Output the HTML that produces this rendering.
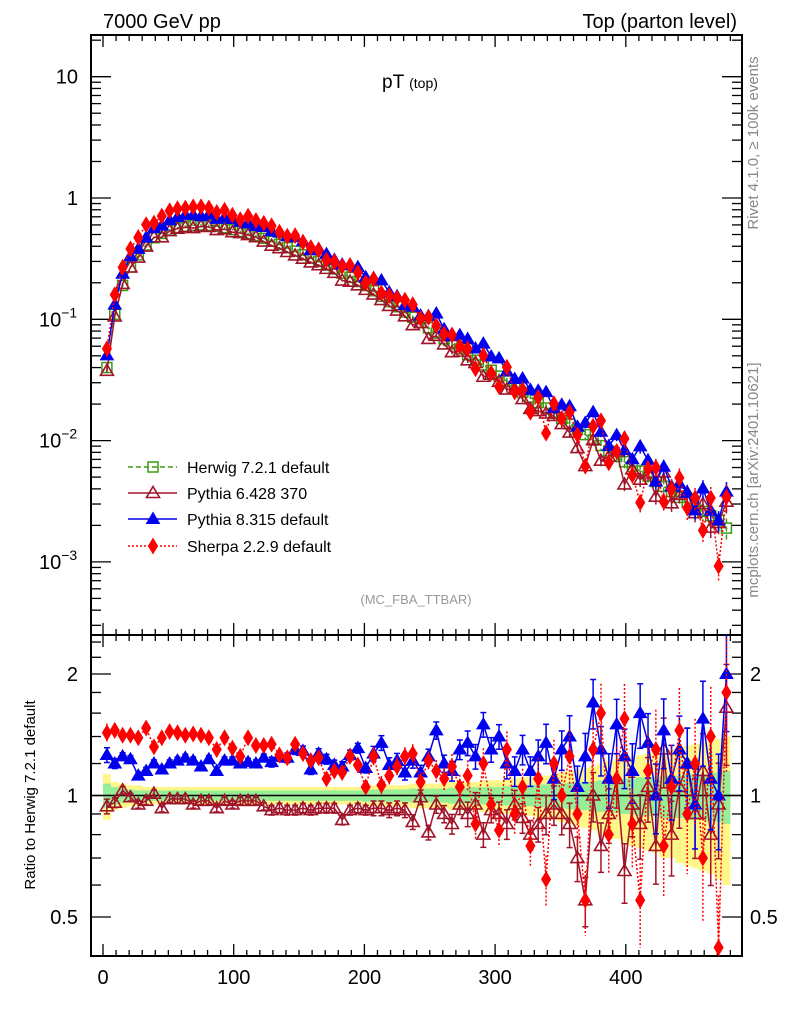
<!DOCTYPE html>
<html><head><meta charset="utf-8">
<style>
html,body{margin:0;padding:0;background:#fff;}
svg{display:block;font-family:"Liberation Sans",Arial,sans-serif;}
</style></head>
<body>
<svg id="chart" width="786" height="1024" viewBox="0 0 786 1024" xmlns="http://www.w3.org/2000/svg">
<defs>
<clipPath id="clipMain"><rect x="91" y="35" width="651" height="600"/></clipPath>
<clipPath id="clipRatio"><rect x="91" y="635" width="651" height="321"/></clipPath>
</defs>
<text x="103" y="28" font-size="20">7000 GeV pp</text>
<text x="737" y="28" font-size="20" text-anchor="end">Top (parton level)</text>
<text x="382" y="88" font-size="19">pT <tspan font-size="14">(top)</tspan></text>
<text x="416" y="604" font-size="13" fill="#999" text-anchor="middle">(MC_FBA_TTBAR)</text>
<text transform="translate(758,143) rotate(-90)" font-size="15" fill="#888" text-anchor="middle">Rivet 4.1.0, ≥ 100k events</text>
<text transform="translate(758,480) rotate(-90)" font-size="15" fill="#888" text-anchor="middle">mcplots.cern.ch [arXiv:2401.10621]</text>
<text transform="translate(35,795) rotate(-90)" font-size="15" text-anchor="middle">Ratio to Herwig 7.2.1 default</text>
<g id="bands" clip-path="url(#clipRatio)"></g>
<g id="axes"></g>
<g id="mainSeries" clip-path="url(#clipMain)"></g>
<g id="ratioSeries" clip-path="url(#clipRatio)"></g>
<g id="legend"></g>
</svg>
<script>
const pT = [3,9,15,21,27,33,39,45,51,57,63,69,75,81,87,93,99,105,111,117,123,129,135,141,147,153,159,165,171,177,183,189,195,201,207,213,219,225,231,237,243,249,255,261,267,273,279,285,291,297,303,309,315,321,327,333,339,345,351,357,363,369,375,381,387,393,399,405,411,417,423,429,435,441,447,453,459,465,471,477];
const herwig = [0.040,0.11,0.19,0.27,0.34,0.41,0.47,0.51,0.545,0.57,0.585,0.595,0.60,0.595,0.585,0.57,0.55,0.53,0.51,0.49,0.465,0.44,0.415,0.39,0.365,0.34,0.32,0.30,0.28,0.26,0.24,0.222,0.205,0.19,0.172,0.155,0.140,0.127,0.115,0.104,0.094,0.085,0.077,0.069,0.063,0.057,0.051,0.046,0.042,0.038,0.034,0.031,0.028,0.025,0.0228,0.0206,0.0186,0.0168,0.0152,0.0137,0.0124,0.0112,0.0101,0.0091,0.0082,0.0074,0.0067,0.0061,0.0056,0.0051,0.0046,0.0042,0.0038,0.0034,0.0031,0.0028,0.0026,0.0024,0.0022,0.0019];
const ratioPythia6 = [0.94,0.96,1.03,0.99,0.95,0.97,1.01,0.93,0.98,0.98,0.98,0.95,0.97,0.97,0.93,0.97,0.95,0.97,0.97,0.97,0.94,0.92,0.93,0.92,0.92,0.93,0.92,0.93,0.93,0.93,0.87,0.92,0.93,0.92,0.93,0.93,0.92,0.93,0.92,0.86,0.99,0.81,0.95,0.90,0.85,0.95,0.90,0.95,0.80,0.92,0.90,0.85,0.95,0.88,0.80,0.85,0.90,0.95,0.90,0.85,0.70,0.55,1.00,0.75,0.90,1.10,0.65,0.95,0.85,1.05,0.75,1.30,0.80,1.05,1.20,0.90,1.15,0.80,0.95,1.65];
const ratioPythia8 = [1.26,1.20,1.25,1.23,1.12,1.15,1.20,1.16,1.20,1.22,1.24,1.22,1.18,1.23,1.15,1.22,1.22,1.20,1.21,1.20,1.24,1.21,1.25,1.24,1.30,1.29,1.16,1.27,1.23,1.19,1.18,1.26,1.31,1.17,1.27,1.35,1.19,1.22,1.14,1.22,1.14,1.25,1.45,1.20,1.15,1.30,1.35,1.25,1.50,1.30,1.40,1.20,1.15,1.30,1.15,1.25,1.35,1.10,1.30,1.40,1.05,1.25,1.70,1.30,1.10,1.50,1.25,1.15,1.60,1.35,1.00,1.45,1.10,1.30,1.20,0.95,1.55,1.10,1.00,2.00];
const ratioSherpa = [1.43,1.45,1.41,1.41,1.39,1.47,1.32,1.39,1.44,1.43,1.41,1.42,1.41,1.39,1.30,1.39,1.31,1.25,1.39,1.33,1.33,1.34,1.26,1.24,1.34,1.27,1.22,1.24,1.10,1.15,1.14,1.25,1.19,1.05,1.25,1.06,1.12,1.18,1.25,1.27,1.08,1.22,1.15,1.10,1.18,1.05,1.12,0.85,1.20,0.95,0.82,1.30,0.90,1.05,0.75,1.10,0.62,1.20,1.00,1.25,0.90,0.55,1.30,1.60,0.80,1.10,1.55,0.85,0.55,1.15,1.30,0.75,1.05,1.45,0.90,1.20,0.70,1.40,0.42,1.80];
const relErr = [0.03,0.02,0.015,0.015,0.015,0.015,0.015,0.015,0.015,0.015,0.015,0.015,0.015,0.015,0.015,0.015,0.015,0.015,0.015,0.015,0.015,0.02,0.02,0.02,0.02,0.02,0.02,0.02,0.02,0.02,0.02,0.02,0.02,0.02,0.03,0.03,0.03,0.03,0.03,0.03,0.03,0.03,0.035,0.035,0.04,0.04,0.05,0.05,0.05,0.05,0.05,0.06,0.06,0.06,0.06,0.07,0.08,0.08,0.08,0.09,0.09,0.10,0.10,0.10,0.11,0.11,0.12,0.12,0.13,0.13,0.14,0.14,0.15,0.15,0.16,0.16,0.17,0.18,0.19,0.20];
const bandYellow = [0.13,0.08,0.07,0.06,0.06,0.05,0.05,0.05,0.05,0.05,0.05,0.05,0.05,0.05,0.05,0.05,0.05,0.05,0.05,0.05,0.05,0.05,0.05,0.05,0.05,0.05,0.05,0.05,0.05,0.05,0.05,0.05,0.05,0.06,0.06,0.06,0.06,0.06,0.06,0.07,0.07,0.07,0.07,0.07,0.08,0.08,0.08,0.08,0.09,0.09,0.09,0.10,0.10,0.11,0.11,0.12,0.12,0.13,0.14,0.15,0.16,0.17,0.18,0.20,0.22,0.22,0.24,0.25,0.26,0.27,0.28,0.30,0.30,0.32,0.33,0.34,0.35,0.36,0.38,0.40];
const bandGreen = [0.07,0.05,0.04,0.035,0.03,0.03,0.03,0.03,0.03,0.03,0.03,0.03,0.03,0.03,0.03,0.03,0.03,0.03,0.03,0.03,0.03,0.03,0.03,0.03,0.03,0.03,0.03,0.03,0.03,0.03,0.03,0.03,0.03,0.035,0.035,0.035,0.035,0.035,0.035,0.04,0.04,0.04,0.04,0.04,0.045,0.045,0.045,0.05,0.05,0.05,0.05,0.055,0.055,0.06,0.06,0.065,0.065,0.07,0.07,0.075,0.08,0.08,0.085,0.09,0.09,0.095,0.10,0.10,0.11,0.11,0.11,0.12,0.12,0.12,0.13,0.13,0.13,0.14,0.14,0.15];
const mainTickVals = [10,1,0.1,0.01,0.001];
const mainTickLabels = [["10",""],["1",""],["10","−1"],["10","−2"],["10","−3"]];
const xTickVals = [0,100,200,300,400];
const ratioTickVals = [2,1,0.5];
const ratioTickLabels = ["2","1","0.5"];

const NS = "http://www.w3.org/2000/svg";
const X = v => 103 + 1.307 * v;
const Ym = v => 198 - 121.3 * Math.log10(v);
const Yr = r => 795.5 - 121.5 * Math.log2(r);
const BINW = 6;
function mk(tag, attrs, parent) {
  const e = document.createElementNS(NS, tag);
  for (const k in attrs) e.setAttribute(k, attrs[k]);
  parent.appendChild(e);
  return e;
}
const axes = document.getElementById('axes');
const bands = document.getElementById('bands');
const mainG = document.getElementById('mainSeries');
const ratioG = document.getElementById('ratioSeries');
const legend = document.getElementById('legend');

function bandPath(half, color, name) {
  let top = '', bot = '';
  for (let i = 0; i < pT.length; i++) {
    const x0 = X(pT[i] - BINW / 2), x1 = X(pT[i] + BINW / 2);
    top += (i === 0 ? 'M' : 'L') + x0 + ',' + Yr(1 + half[i]) + 'L' + x1 + ',' + Yr(1 + half[i]);
  }
  for (let i = pT.length - 1; i >= 0; i--) {
    const x0 = X(pT[i] - BINW / 2), x1 = X(pT[i] + BINW / 2);
    bot += 'L' + x1 + ',' + Yr(1 - half[i]) + 'L' + x0 + ',' + Yr(1 - half[i]);
  }
  const p = mk('path', {d: top + bot + 'Z', fill: color, stroke: 'none'}, bands);
  
  
}
bandPath(bandYellow, '#fff68a', 'total-uncertainty-band');
bandPath(bandGreen, '#96ee96', 'stat-uncertainty-band');

const f1 = mk('rect', {x: 91, y: 35, width: 651, height: 600, fill: 'none', stroke: '#000', 'stroke-width': 2}, axes);


const f2 = mk('rect', {x: 91, y: 635, width: 651, height: 321, fill: 'none', stroke: '#000', 'stroke-width': 2}, axes);


const unity = mk('line', {x1: 91, x2: 742, y1: Yr(1), y2: Yr(1), stroke: '#000', 'stroke-width': 1.5}, axes);



for (let v = 0; v <= 480; v += 10) {
  const maj = v % 100 === 0;
  const L = maj ? 12 : 6;
  [[35, 1], [635, -1], [635, 1], [956, -1]].forEach(([y, d]) => {
    mk('line', {x1: X(v), x2: X(v), y1: y, y2: y + d * L, stroke: '#000', 'stroke-width': 1.3}, axes);
  });
}
xTickVals.forEach(v => {
  const t = mk('text', {x: X(v), y: 984, 'font-size': 20, 'text-anchor': 'middle'}, axes);
  t.textContent = String(v);
  
  
});
for (let e = -4; e <= 1; e++) {
  for (let m = 1; m <= 9; m++) {
    const v = m * Math.pow(10, e);
    const y = Ym(v);
    if (y < 36 || y > 634) continue;
    const L = m === 1 ? 20 : 10;
    mk('line', {x1: 91, x2: 91 + L, y1: y, y2: y, stroke: '#000', 'stroke-width': 1.3}, axes);
    mk('line', {x1: 742, x2: 742 - L, y1: y, y2: y, stroke: '#000', 'stroke-width': 1.3}, axes);
  }
}
mainTickVals.forEach((v, i) => {
  const t = mk('text', {x: 78, y: Ym(v) + 7, 'font-size': 20, 'text-anchor': 'end'}, axes);
  
  
  const lab = mainTickLabels[i];
  if (lab[1]) {
    t.setAttribute('x', 39);
    t.setAttribute('text-anchor', 'start');
    t.textContent = lab[0];
    const s = mk('tspan', {dy: -9, 'font-size': 14}, t);
    s.textContent = lab[1];
  } else {
    t.textContent = lab[0];
  }
});
const ratioMinor = [0.4,0.5,0.6,0.7,0.8,0.9,1,1.2,1.4,1.6,1.8,2,2.2,2.4];
ratioMinor.forEach(r => {
  const maj = (r === 0.5 || r === 1 || r === 2);
  const L = maj ? 20 : 10;
  const y = Yr(r);
  mk('line', {x1: 91, x2: 91 + L, y1: y, y2: y, stroke: '#000', 'stroke-width': 1.3}, axes);
  mk('line', {x1: 742, x2: 742 - L, y1: y, y2: y, stroke: '#000', 'stroke-width': 1.3}, axes);
});
ratioTickVals.forEach((r, i) => {
  const t = mk('text', {x: 78, y: Yr(r) + 7, 'font-size': 20, 'text-anchor': 'end'}, axes);
  t.textContent = ratioTickLabels[i];
  
  
  const t2 = mk('text', {x: 750, y: Yr(r) + 7, 'font-size': 20}, axes);
  t2.textContent = ratioTickLabels[i];
  
  
});

function marker(kind, x, y, color, parent) {
  let e;
  if (kind === 'square') e = mk('rect', {x: x - 5, y: y - 5, width: 10, height: 10, fill: 'none', stroke: color, 'stroke-width': 1.5}, parent);
  else if (kind === 'otri') e = mk('polygon', {points: `${x},${y-6.5} ${x+6.5},${y+4.5} ${x-6.5},${y+4.5}`, fill: 'none', stroke: color, 'stroke-width': 1.6}, parent);
  else if (kind === 'ftri') e = mk('polygon', {points: `${x},${y-6.5} ${x+6.5},${y+4.5} ${x-6.5},${y+4.5}`, fill: color, stroke: color}, parent);
  else e = mk('polygon', {points: `${x},${y-7.5} ${x+4.5},${y} ${x},${y+7.5} ${x-4.5},${y}`, fill: color, stroke: color}, parent);
  return e;
}
const series = [
  {name: 'herwig', kind: 'square', color: '#3c9a14', dash: '5,3', ratio: null, errScale: 1},
  {name: 'pythia6', kind: 'otri', color: '#a0142a', dash: '', ratio: ratioPythia6, errScale: 1},
  {name: 'pythia8', kind: 'ftri', color: '#0000ee', dash: '', ratio: ratioPythia8, errScale: 1},
  {name: 'sherpa', kind: 'diam', color: '#ff0000', dash: '2,2', ratio: ratioSherpa, errScale: 1.3}
];
series.forEach(s => {
  const vals = pT.map((v, i) => s.ratio ? herwig[i] * s.ratio[i] : herwig[i]);
  const g = mk('g', {}, mainG);
  
  
  const pts = pT.map((v, i) => X(v) + ',' + Ym(vals[i])).join(' ');
  mk('polyline', {points: pts, fill: 'none', stroke: s.color, 'stroke-width': 1.5, 'stroke-dasharray': s.dash}, g);
  pT.forEach((v, i) => {
    const e = vals[i] * relErr[i] * s.errScale;
    const x = X(v);
    mk('line', {x1: x, x2: x, y1: Ym(vals[i] + e), y2: Ym(Math.max(vals[i] - e, 1e-6)), stroke: s.color, 'stroke-width': 1.5, 'stroke-dasharray': s.dash}, g);
    const m = marker(s.kind, x, Ym(vals[i]), s.color, g);
    
    
  });
  if (!s.ratio) return;
  const gr = mk('g', {}, ratioG);
  
  
  const rp = pT.map((v, i) => X(v) + ',' + Yr(s.ratio[i])).join(' ');
  mk('polyline', {points: rp, fill: 'none', stroke: s.color, 'stroke-width': 1.5, 'stroke-dasharray': s.dash}, gr);
  pT.forEach((v, i) => {
    const r = s.ratio[i];
    const e = r * relErr[i] * 1.4 * s.errScale;
    const x = X(v);
    mk('line', {x1: x, x2: x, y1: Yr(r + e), y2: Yr(Math.max(r - e, 0.05)), stroke: s.color, 'stroke-width': 1.5, 'stroke-dasharray': s.dash}, gr);
    if (s.kind !== 'diam') {
      mk('line', {x1: x - 3, x2: x + 3, y1: Yr(r + e), y2: Yr(r + e), stroke: s.color, 'stroke-width': 1.5}, gr);
      mk('line', {x1: x - 3, x2: x + 3, y1: Yr(Math.max(r - e, 0.05)), y2: Yr(Math.max(r - e, 0.05)), stroke: s.color, 'stroke-width': 1.5}, gr);
    }
    const m = marker(s.kind, x, Yr(r), s.color, gr);
    
    
  });
});

const legendLabels = ['Herwig 7.2.1 default', 'Pythia 6.428 370', 'Pythia 8.315 default', 'Sherpa 2.2.9 default'];
const legendRows = [467, 493, 519, 546];
series.forEach((s, i) => {
  const g = mk('g', {}, legend);
  
  
  const y = legendRows[i];
  mk('line', {x1: 128, x2: 177, y1: y, y2: y, stroke: s.color, 'stroke-width': 1.5, 'stroke-dasharray': s.dash}, g);
  marker(s.kind, 153, y, s.color, g);
  const t = mk('text', {x: 187, y: y + 6, 'font-size': 16}, g);
  t.textContent = legendLabels[i];
});
</script>
</body></html>
